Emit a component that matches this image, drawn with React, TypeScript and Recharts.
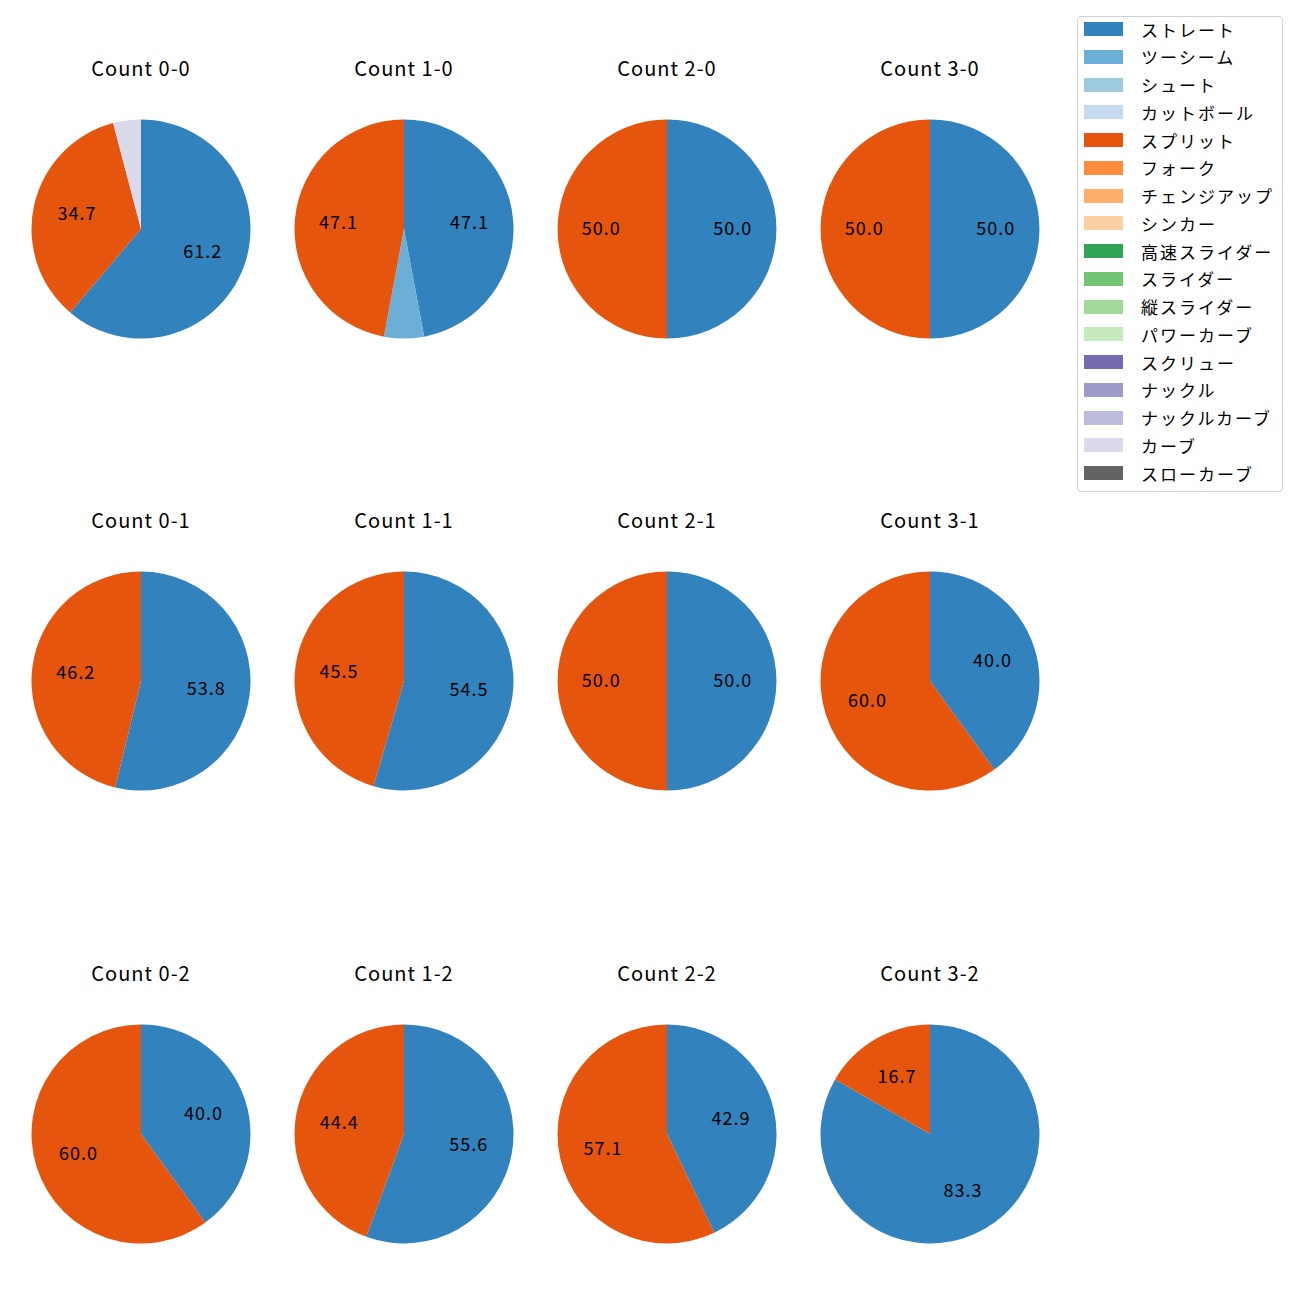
import { PieChart, Pie, Cell } from 'recharts';

const FONT = '"Noto Sans CJK JP", "Noto Sans", sans-serif';
const RADIAN = Math.PI / 180;

const countLabels = ['0-0', '1-0', '2-0', '3-0', '0-1', '1-1', '2-1', '3-1', '0-2', '1-2', '2-2', '3-2'];

const pitchTypes = [
  'ストレート', 'ツーシーム', 'シュート', 'カットボール', 'スプリット', 'フォーク', 'チェンジアップ', 'シンカー',
  '高速スライダー', 'スライダー', '縦スライダー', 'パワーカーブ', 'スクリュー', 'ナックル', 'ナックルカーブ', 'カーブ', 'スローカーブ',
];
const pitchColors = [
  '#3182bd', '#6baed6', '#9ecae1', '#c6dbef', '#e6550d', '#fd8d3c', '#fdae6b', '#fdd0a2',
  '#31a354', '#74c476', '#a1d99b', '#c7e9c0', '#756bb1', '#9e9ac8', '#bcbddc', '#dadaeb', '#636363',
];

// share (%) per count, same order as countLabels
const straight = [61.2, 47.1, 50.0, 50.0, 53.8, 54.5, 50.0, 40.0, 40.0, 55.6, 42.9, 83.3];
const twoSeam = [0, 5.9, 0, 0, 0, 0, 0, 0, 0, 0, 0, 0];
const split = [34.7, 47.1, 50.0, 50.0, 46.2, 45.5, 50.0, 60.0, 60.0, 44.4, 57.1, 16.7];
const curve = [4.1, 0, 0, 0, 0, 0, 0, 0, 0, 0, 0, 0];

const seriesByType: Record<string, number[]> = {
  'ストレート': straight,
  'ツーシーム': twoSeam,
  'スプリット': split,
  'カーブ': curve,
};

const colX = [141, 404, 667, 930];
const rowY = [229, 681, 1134];
const R = 109.5;
const BOX = 240;

const renderLabel = (props: any) => {
  const { cx, cy, midAngle, outerRadius, value } = props;
  if (value < 10) return <g />;
  const r = outerRadius * 0.6;
  const x = cx + r * Math.cos(-midAngle * RADIAN);
  const y = cy + r * Math.sin(-midAngle * RADIAN);
  return (
    <text
      x={x}
      y={y - 2}
      textAnchor="middle"
      dominantBaseline="central"
      fontSize={18}
      letterSpacing={1}
      fill="#000"
      fontFamily={FONT}
    >
      {value.toFixed(1)}
    </text>
  );
};

function CountPie({ idx }: { idx: number }) {
  const cx = colX[idx % 4];
  const cy = rowY[Math.floor(idx / 4)];
  const data = pitchTypes
    .map((name, k) => ({ name, value: seriesByType[name]?.[idx] ?? 0, color: pitchColors[k] }))
    .filter((d) => d.value > 0);
  return (
    <>
      <div
        style={{
          position: 'absolute', left: cx - 100, top: cy - 173, width: 200, textAlign: 'center',
          fontSize: 20, letterSpacing: 1, fontFamily: FONT, color: '#000', lineHeight: '24px',
        }}
      >
        Count {countLabels[idx]}
      </div>
      <div style={{ position: 'absolute', left: cx - BOX / 2, top: cy - BOX / 2 }}>
        <PieChart width={BOX} height={BOX} margin={{ top: 0, right: 0, bottom: 0, left: 0 }}>
          <Pie
            data={data}
            dataKey="value"
            nameKey="name"
            cx={BOX / 2}
            cy={BOX / 2}
            outerRadius={R}
            startAngle={90}
            endAngle={-270}
            stroke="none"
            label={renderLabel}
            labelLine={false}
            isAnimationActive={false}
          >
            {data.map((d) => (
              <Cell key={d.name} fill={d.color} />
            ))}
          </Pie>
        </PieChart>
      </div>
    </>
  );
}

function PitchLegend() {
  return (
    <div
      style={{
        position: 'absolute', left: 1077, top: 16, width: 206, height: 476,
        border: '1px solid #d0d0d0', borderRadius: 4, background: '#fff', boxSizing: 'border-box',
      }}
    >
      {pitchTypes.map((name, k) => (
        <div key={name} style={{ position: 'absolute', left: 6, top: 4 + k * 27.75, height: 16, display: 'flex', alignItems: 'center' }}>
          <span style={{ display: 'inline-block', width: 39, height: 14, background: pitchColors[k] }} />
          <span style={{ marginLeft: 18, fontSize: 17, fontFamily: FONT, color: '#000', whiteSpace: 'nowrap', letterSpacing: 2 }}>{name}</span>
        </div>
      ))}
    </div>
  );
}

export default function App() {
  return (
    <div style={{ position: 'absolute', left: 0, top: 0, width: 1300, height: 1300, background: '#fff' }}>
      {countLabels.map((_, i) => (
        <CountPie key={i} idx={i} />
      ))}
      <PitchLegend />
    </div>
  );
}
